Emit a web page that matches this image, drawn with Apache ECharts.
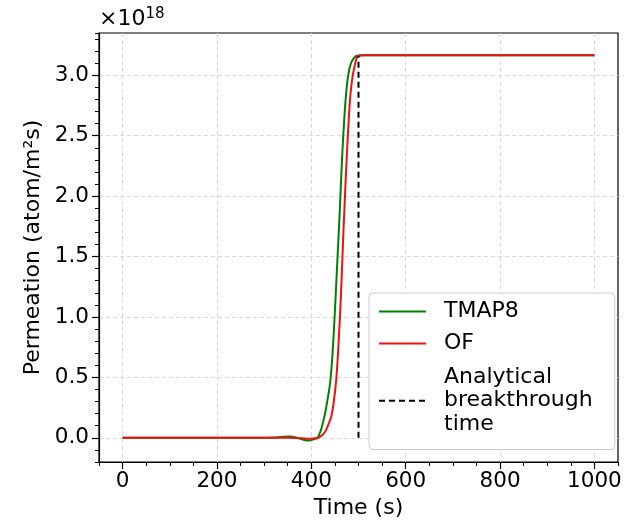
<!DOCTYPE html>
<html><head><meta charset="utf-8">
<script src="https://cdn.jsdelivr.net/npm/echarts@6/dist/echarts.min.js"></script>
<style>html,body{margin:0;padding:0;background:#fff}#c{width:636px;height:521px}</style>
</head><body><div id="c"></div>
<script>
// Permeation values in units of 1e18 atom/(m^2 s)
const tmap8Time  = [0,100,200,300,320,340,355,370,385,395,405,413,420,425,430,435,440,445,450,455,460,465,470,475,480,485,490,495,510,600,800,1000];
const tmap8Value = [0,0,0,0,0.003,0.008,0.01,0.0,-0.018,-0.022,-0.012,0.0,0.06,0.13,0.22,0.33,0.46,0.7,1.05,1.45,1.85,2.3,2.65,2.9,3.04,3.11,3.14,3.16,3.165,3.165,3.165,3.165];
const ofTime  = [0,100,200,300,350,380,395,405,415,425,432,437,442,447,453,458,463,468,473,477,482,487,492,496,499,510,600,800,1000];
const ofValue = [0,0,0,0,0,-0.004,-0.008,-0.005,0.0,0.03,0.07,0.12,0.17,0.28,0.49,0.8,1.2,1.7,2.15,2.47,2.8,2.98,3.08,3.14,3.16,3.165,3.165,3.165,3.165];
const breakthroughTime = [500,500];
const breakthroughValue = [0,3.16];
const xTickLabels = [0,200,400,600,800,1000];
const yTickLabels = [0,0.5,1.0,1.5,2.0,2.5,3.0];
const seriesNames = ['TMAP8','OF','Analytical\nbreakthrough\ntime'];

const zip = (a,b)=>a.map((v,i)=>[v,b[i]]);
const FONT = 'DejaVu Sans';
const FS = 21.5;
const chart = echarts.init(document.getElementById('c'), null, {renderer:'canvas'});
const gridLine = {show:true, lineStyle:{color:'#d9d9d9', type:[4,3], width:1}};
chart.setOption({
  animation:false,
  backgroundColor:'#fff',
  grid:{left:99, right:18, top:33, bottom:59, containLabel:false, outerBoundsMode:'none',
        show:true, borderColor:'#000', borderWidth:1.2, backgroundColor:'transparent'},
  xAxis:[{
    type:'value', min:-50, max:1050, splitNumber:5,
    name:'Time (s)', nameLocation:'middle', nameGap:35,
    nameTextStyle:{fontFamily:FONT, fontSize:22, color:'#000'},
    axisLine:{onZero:false, lineStyle:{color:'#000', width:1.2}},
    axisTick:{length:7, lineStyle:{color:'#000', width:1.2}, customValues:xTickLabels},
    axisLabel:{customValues:xTickLabels, fontFamily:FONT, fontSize:FS, color:'#000', margin:8, formatter:v=>String(v)},
    splitLine:gridLine
  },{
    type:'value', min:-50, max:1050, interval:50, position:'bottom',
    axisLine:{show:false, onZero:false}, axisLabel:{show:false}, splitLine:{show:false},
    axisTick:{length:4, lineStyle:{color:'#000', width:1}}
  }],
  yAxis:[{
    type:'value', min:-0.2, max:3.35, splitNumber:7,
    name:'Permeation (atom/m²s)', nameLocation:'middle', nameGap:53,
    nameTextStyle:{fontFamily:FONT, fontSize:22, color:'#000'},
    axisLine:{onZero:false, lineStyle:{color:'#000', width:1.2}},
    axisTick:{length:7, lineStyle:{color:'#000', width:1.2}, customValues:yTickLabels},
    axisLabel:{customValues:yTickLabels, fontFamily:FONT, fontSize:FS, color:'#000', margin:10, formatter:v=>v.toFixed(1)},
    splitLine:gridLine
  },{
    type:'value', min:-0.2, max:3.35, interval:0.1, position:'left',
    axisLine:{show:false, onZero:false}, axisLabel:{show:false}, splitLine:{show:false},
    axisTick:{length:4, lineStyle:{color:'#000', width:1}}
  }],
  legend:{
    left:369, top:293, orient:'vertical', itemWidth:47, itemHeight:14, itemGap:7,
    padding:[6,22,11,9],
    backgroundColor:'#fff', borderColor:'#cccccc', borderWidth:1, borderRadius:4,
    itemStyle:{opacity:0},
    textStyle:{fontFamily:FONT, fontSize:22, color:'#000', lineHeight:25, padding:[0,0,0,13]},
    data:[
      {name:seriesNames[0]},
      {name:seriesNames[1]},
      {name:seriesNames[2], textStyle:{lineHeight:23.5, padding:[5,0,0,13]}}
    ]
  },
  graphic:[{
    type:'text', left:99, top:7,
    style:{text:'{a|×10}{b|18}', rich:{a:{fontFamily:FONT, fontSize:22, fill:'#000'}, b:{fontFamily:FONT, fontSize:15, fill:'#000', verticalAlign:'top', padding:[0,0,9,0]}}}
  }],
  series:[
    {name:seriesNames[0], type:'line', data:zip(tmap8Time,tmap8Value), showSymbol:false, symbol:'none', smooth:0.3,
     lineStyle:{color:'#008000', width:2}, itemStyle:{color:'#008000'}, z:2},
    {name:seriesNames[1], type:'line', data:zip(ofTime,ofValue), showSymbol:false, symbol:'none', smooth:0.3,
     lineStyle:{color:'#ee1111', width:2}, itemStyle:{color:'#ee1111'}, z:3},
    {name:seriesNames[2], type:'line', data:zip(breakthroughTime,breakthroughValue), showSymbol:false, symbol:'none',
     lineStyle:{color:'#000', width:2, type:[6,4]}, itemStyle:{color:'#000'}, z:4}
  ]
});
</script></body></html>
